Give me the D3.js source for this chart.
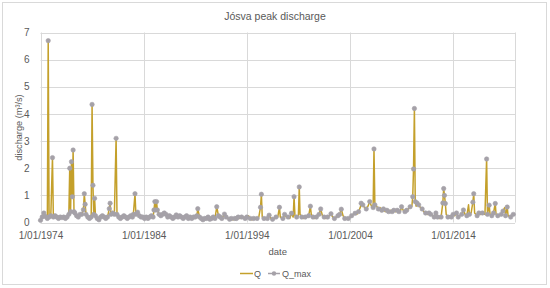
<!DOCTYPE html>
<html><head><meta charset="utf-8">
<script src="https://cdn.jsdelivr.net/npm/d3@7"></script>
<style>body{margin:0;background:#fff}svg{display:block}</style>
</head><body><svg id="c" width="550" height="288"></svg>
<script>
const dates = [
"1974-01","1974-03","1974-05","1974-07","1974-09","1974-10","1974-11",
"1975-01","1975-03","1975-04","1975-06","1975-08","1975-10","1975-12",
"1976-02","1976-04","1976-06","1976-08","1976-10","1976-11","1976-12",
"1977-01","1977-02","1977-03","1977-04","1977-05","1977-07","1977-09","1977-11",
"1978-01","1978-03","1978-04","1978-05","1978-06","1978-08","1978-10","1978-12",
"1979-01","1979-02","1979-03","1979-04","1979-05","1979-07","1979-09","1979-11",
"1980-01","1980-03","1980-05","1980-07","1980-09","1980-10","1980-11",
"1981-01","1981-03","1981-05","1981-06","1981-08","1981-10","1981-12",
"1982-02","1982-04","1982-06","1982-08","1982-10","1982-12",
"1983-01","1983-03","1983-04","1983-06","1983-08","1983-10","1983-12",
"1984-02","1984-04","1984-06","1984-08","1984-10","1984-12",
"1985-01","1985-02","1985-03","1985-04","1985-05","1985-07","1985-09","1985-11",
"1986-01","1986-03","1986-05","1986-07","1986-09","1986-11",
"1987-01","1987-03","1987-05","1987-07","1987-09","1987-11",
"1988-01","1988-03","1988-05","1988-07","1988-09","1988-11",
"1989-01","1989-03","1989-04","1989-06","1989-08","1989-10","1989-12",
"1990-02","1990-04","1990-06","1990-08","1990-10","1990-12",
"1991-02","1991-04","1991-06","1991-08","1991-11",
"1992-01","1992-03","1992-05","1992-07","1992-09","1992-11",
"1993-01","1993-03","1993-05","1993-07","1993-09","1993-11",
"1994-01","1994-03","1994-05","1994-07","1994-09","1994-11",
"1995-01","1995-03","1995-05","1995-06","1995-07","1995-09","1995-11",
"1996-01","1996-03","1996-05","1996-07","1996-09","1996-11",
"1997-01","1997-03","1997-04","1997-07","1997-09","1997-11",
"1998-01","1998-03","1998-05","1998-07","1998-08","1998-09","1998-11",
"1999-01","1999-02","1999-03","1999-05","1999-07","1999-09","1999-11",
"2000-01","2000-03","2000-04","2000-06","2000-08","2000-10","2000-12",
"2001-01","2001-03","2001-05","2001-07","2001-09","2001-11",
"2002-01","2002-03","2002-05","2002-07","2002-09","2002-11",
"2003-01","2003-03","2003-05","2003-07","2003-09","2003-11",
"2004-01","2004-03","2004-05","2004-07","2004-09","2004-11",
"2005-01","2005-02","2005-04","2005-06","2005-08","2005-10","2005-12",
"2006-02","2006-04","2006-05","2006-06","2006-08","2006-10","2006-12",
"2007-02","2007-04","2007-06","2007-08","2007-10","2007-12",
"2008-02","2008-04","2008-06","2008-08","2008-10","2008-12",
"2009-01","2009-03","2009-05","2009-07","2009-09","2009-11",
"2010-01","2010-02","2010-03","2010-04","2010-05","2010-06","2010-07","2010-09","2010-11",
"2011-01","2011-03","2011-05","2011-07","2011-09","2011-11",
"2012-01","2012-03","2012-05","2012-07","2012-09","2012-11",
"2013-01","2013-02","2013-03","2013-04","2013-05","2013-07","2013-09","2013-11",
"2014-01","2014-03","2014-05","2014-07","2014-09","2014-11",
"2015-01","2015-03","2015-05","2015-07","2015-08","2015-10","2015-12",
"2016-01","2016-02","2016-05","2016-07","2016-09","2016-11",
"2017-02","2017-04","2017-05","2017-07","2017-08","2017-10","2017-12",
"2018-02","2018-03","2018-05","2018-07","2018-09","2018-11",
"2019-01","2019-02","2019-04","2019-05","2019-08","2019-11"
];
const qValues = [
0.08,0.2,0.35,0.2,0.15,6.7,0.2,
0.25,2.39,0.2,0.25,0.2,0.15,0.2,
0.18,0.2,0.15,0.2,0.3,2.0,0.4,
2.24,0.95,2.67,0.4,0.35,0.25,0.2,0.3,
0.3,0.47,1.06,0.67,0.3,0.2,0.15,0.2,
4.35,1.37,0.3,0.89,0.25,0.15,0.1,0.2,
0.25,0.2,0.15,0.2,0.51,0.71,0.3,
0.35,0.3,3.1,0.3,0.2,0.15,0.2,
0.25,0.2,0.15,0.2,0.25,0.2,
0.3,1.06,0.3,0.38,0.25,0.2,0.2,
0.15,0.2,0.15,0.2,0.25,0.2,
0.46,0.77,0.46,0.77,0.46,0.3,0.25,0.3,
0.35,0.3,0.2,0.25,0.2,0.15,
0.2,0.28,0.2,0.25,0.2,0.15,
0.2,0.25,0.15,0.2,0.15,0.2,
0.2,0.25,0.51,0.2,0.15,0.1,0.15,
0.15,0.2,0.12,0.15,0.2,0.15,
0.58,0.25,0.2,0.15,0.31,
0.2,0.15,0.12,0.15,0.1,0.15,
0.15,0.2,0.15,0.2,0.2,0.15,
0.2,0.25,0.15,0.1,0.15,0.15,
0.15,0.2,0.56,1.04,0.2,0.15,0.12,
0.15,0.27,0.15,0.12,0.15,0.2,
0.2,0.56,0.2,0.15,0.3,0.2,
0.2,0.15,0.34,0.2,0.95,0.25,0.2,
0.25,1.31,0.3,0.2,0.15,0.2,0.2,
0.25,0.6,0.3,0.2,0.15,0.2,0.3,
0.3,0.5,0.25,0.2,0.15,0.2,
0.25,0.32,0.2,0.15,0.2,0.25,
0.3,0.49,0.25,0.15,0.12,0.15,
0.2,0.25,0.3,0.34,0.3,0.4,
0.55,0.71,0.65,0.55,0.5,0.6,0.77,
0.6,0.55,2.71,0.65,0.6,0.5,0.55,
0.45,0.5,0.4,0.45,0.4,0.45,
0.4,0.45,0.4,0.45,0.4,0.45,
0.58,0.45,0.4,0.45,0.5,0.58,
0.6,0.95,1.97,4.2,0.77,0.6,0.72,0.65,0.55,
0.5,0.4,0.35,0.3,0.35,0.3,
0.25,0.2,0.35,0.2,0.15,0.2,
0.72,1.25,1.0,0.7,0.3,0.2,0.25,0.2,
0.3,0.25,0.35,0.2,0.25,0.3,
0.46,0.3,0.25,0.65,0.3,0.35,0.75,
1.06,0.35,0.25,0.35,0.3,0.35,
0.3,2.34,0.3,0.64,0.3,0.25,0.35,
0.7,0.3,0.25,0.25,0.3,0.42,
0.55,0.25,0.57,0.25,0.2,0.3
];
const qMaxValues = [
0.08,0.2,0.35,0.22,0.15,6.7,0.2,
0.25,2.39,0.2,0.25,0.2,0.15,0.2,
0.18,0.2,0.15,0.2,0.3,2.0,0.4,
2.24,0.95,2.67,0.4,0.35,0.25,0.2,0.3,
0.3,0.47,1.06,0.67,0.3,0.2,0.15,0.2,
4.35,1.37,0.3,0.89,0.25,0.15,0.1,0.2,
0.25,0.2,0.15,0.2,0.51,0.71,0.3,
0.35,0.3,3.1,0.3,0.2,0.15,0.2,
0.25,0.2,0.15,0.2,0.25,0.2,
0.3,1.06,0.3,0.38,0.25,0.2,0.2,
0.15,0.2,0.15,0.2,0.25,0.2,
0.46,0.77,0.46,0.77,0.46,0.3,0.25,0.3,
0.35,0.3,0.2,0.25,0.2,0.15,
0.2,0.28,0.2,0.25,0.2,0.15,
0.2,0.25,0.15,0.2,0.15,0.2,
0.2,0.25,0.51,0.2,0.15,0.1,0.15,
0.15,0.2,0.12,0.15,0.2,0.15,
0.58,0.25,0.2,0.15,0.31,
0.2,null,0.12,0.15,null,0.15,
0.15,0.2,null,0.2,null,0.15,
0.2,null,0.15,null,0.15,null,
0.15,null,0.56,1.04,null,0.15,null,
0.15,0.27,null,0.12,null,0.2,
null,0.56,null,0.15,0.3,null,
0.2,null,0.34,null,0.95,null,0.2,
null,1.31,null,0.2,null,0.2,null,
0.25,0.6,null,0.2,null,0.2,null,
0.3,0.5,null,0.2,null,0.2,
null,0.32,null,0.15,null,0.25,
0.3,0.49,null,0.15,null,0.15,
null,0.25,null,0.34,null,0.4,
null,0.71,0.65,null,0.5,null,0.77,
null,0.55,2.71,0.65,null,0.5,null,
0.45,0.5,null,0.45,0.4,null,
0.4,0.45,null,0.45,0.4,null,
0.58,null,0.4,0.45,null,0.58,
null,0.95,1.97,4.2,0.77,null,0.72,0.65,null,
0.5,null,0.35,null,0.35,0.3,
null,0.2,0.35,0.2,null,0.2,
0.72,1.25,1.0,0.7,null,0.2,null,0.2,
0.3,null,0.35,0.2,null,0.3,
0.46,null,0.25,null,0.3,null,0.75,
1.06,null,0.25,0.35,null,0.35,
null,2.34,0.3,0.64,null,0.25,0.35,
0.7,null,0.25,null,0.3,0.42,
null,0.25,0.57,null,0.2,0.3
];
const yTicks = [0,1,2,3,4,5,6,7];
const xTickDates = ["1974-01-01","1984-01-01","1994-01-01","2004-01-01","2014-01-01"];
const xTickLabels = ["1/01/1974","1/01/1984","1/01/1994","1/01/2004","1/01/2014"];
const xDomain = ["1974-01-01","2020-01-01"];
const seriesNames = ["Q","Q_max"];

const parseM = d3.timeParse("%Y-%m");
const parseD = d3.timeParse("%Y-%m-%d");
const data = dates.map((d,i)=>({date:parseM(d), q:qValues[i], qm:qMaxValues[i]}));

const gold = "#C4A02B", grey = "#A5A1A8", grid = "#D9D9D9", txt = "#595959";
const font = "'Liberation Sans', Arial, sans-serif";
const L = 40.5, R = 515, T = 32.5, B = 222.5;

const svg = d3.select("#c");
svg.append("rect").attr("x",2.5).attr("y",2.5).attr("width",544).attr("height",282)
  .attr("fill","#fff").attr("stroke",grid).attr("stroke-width",1);

const x = d3.scaleTime().domain(xDomain.map(parseD)).range([L,R]);
const y = d3.scaleLinear().domain([0,7]).range([B,T]);

// gridlines
svg.append("g").selectAll("line").data(yTicks).join("line")
  .attr("x1",L).attr("x2",R).attr("y1",d=>Math.round(y(d))+0.5).attr("y2",d=>Math.round(y(d))+0.5)
  .attr("stroke",grid).attr("stroke-width",1);
svg.append("g").selectAll("line").data(xTickDates.map(parseD)).join("line")
  .attr("x1",d=>Math.round(x(d))+0.5).attr("x2",d=>Math.round(x(d))+0.5).attr("y1",T).attr("y2",B)
  .attr("stroke",grid).attr("stroke-width",1);
svg.append("line").attr("x1",Math.round(R)+0.5).attr("x2",Math.round(R)+0.5).attr("y1",T).attr("y2",B)
  .attr("stroke",grid);

// y axis labels
const yAxis = d3.axisLeft(y).tickValues(yTicks).tickSize(0).tickPadding(11).tickFormat(d3.format("d"));
const gy = svg.append("g").attr("transform",`translate(${L},0)`).call(yAxis);
gy.select(".domain").remove();
gy.selectAll("text").attr("fill",txt).style("font-family",font).style("font-size","10px");

// x axis labels
const xAxis = d3.axisBottom(x).tickValues(xTickDates.map(parseD)).tickSize(0).tickPadding(9)
  .tickFormat((d,i)=>xTickLabels[i]);
const gx = svg.append("g").attr("transform",`translate(0,${B})`).call(xAxis);
gx.select(".domain").remove();
gx.selectAll("text").attr("fill",txt).style("font-family",font).style("font-size","10px");

// Q line
const line = d3.line().x(d=>x(d.date)).y(d=>y(d.q));
svg.append("path").datum(data).attr("d",line).attr("fill","none")
  .attr("stroke",gold).attr("stroke-width",1.5).attr("stroke-linejoin","round");

// Q_max markers
svg.append("g").selectAll("circle").data(data.filter(d=>d.qm!=null)).join("circle")
  .attr("cx",d=>x(d.date)).attr("cy",d=>y(d.qm)).attr("r",2.2)
  .attr("fill",grey).attr("stroke",grey).attr("stroke-width",0.6);

// titles
svg.append("text").attr("x",275).attr("y",19.5).attr("text-anchor","middle")
  .attr("fill",txt).style("font-family",font).style("font-size","10.5px").text("Jósva peak discharge");
svg.append("text").attr("x",(L+R)/2).attr("y",255).attr("text-anchor","middle")
  .attr("fill",txt).style("font-family",font).style("font-size","9.5px").text("date");
svg.append("text").attr("transform",`translate(21.5,${(T+B)/2}) rotate(-90)`).attr("text-anchor","middle")
  .attr("fill",txt).style("font-family",font).style("font-size","9.2px").text("discharge (m³/s)");

// legend
const lg = svg.append("g");
lg.append("line").attr("x1",240).attr("x2",253).attr("y1",273.5).attr("y2",273.5).attr("stroke",gold).attr("stroke-width",1.5);
lg.append("text").attr("x",254).attr("y",276.8).attr("fill",txt).style("font-family",font).style("font-size","9px").text(seriesNames[0]);
lg.append("line").attr("x1",268).attr("x2",280).attr("y1",273.5).attr("y2",273.5).attr("stroke",grey).attr("stroke-width",1.5);
lg.append("circle").attr("cx",274).attr("cy",273.5).attr("r",2.2).attr("fill",grey);
lg.append("text").attr("x",282).attr("y",276.8).attr("fill",txt).style("font-family",font).style("font-size","9px").text(seriesNames[1]);
</script></body></html>
